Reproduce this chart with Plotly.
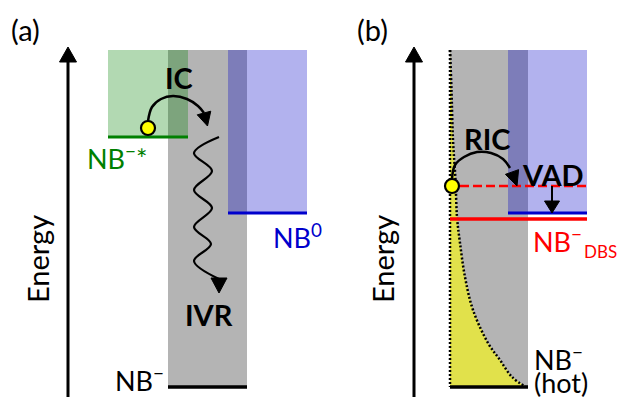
import plotly.graph_objects as go

W, H = 617, 397
FONT = "Lato"

# ---- layout values of the schematic (pixel-like units, y grows downward) ----
energy_axis_x = [68, 414]          # panel (a), panel (b)
energy_axis_top = 47
energy_axis_bottom = 397
box_top = 50
ground_y = 387

# panel (a)
gray_a = [168, 247]
green_a = [108, 188]
green_level = 137
blue_a = [228, 307]
blue_level = 213
circle_a = [148, 128]
ic_arc_x = [148, 152, 161, 173, 187, 198, 204]
ic_arc_y = [121, 107, 99, 96, 99, 106, 113]
ic_head = [(204, 113), (207.5, 126)]
wave_x = [219, 194, 212, 194, 212, 194, 211, 194, 219]
wave_y = [137, 153, 171, 190, 208, 227, 244, 261, 279]
wave_head = [(219, 278), (219, 293)]

# panel (b)
gray_b = [450, 528]
blue_b = [508, 587]
dbs_level = 219
vad_level = 186
circle_b = [452, 186]
ric_arc_x = [452, 455, 464, 477, 491, 503, 510]
ric_arc_y = [179, 165, 157, 152, 153, 159, 168]
ric_head = [(512, 172), (517, 186)]
vad_x = 552
vad_head = [(552, 201), (552, 213)]
hot_y = [50, 90, 140, 180, 217, 243, 277, 310, 343, 360, 377, 387]
hot_x = [450, 451.5, 453, 455.5, 457, 460, 465, 473, 488, 500, 512, 526]

GREEN = "#008000"
BLUE = "#0000CC"
RED = "#FF0000"
GRAY = "#B4B4B4"

fig = go.Figure()


def line(xs, ys, color, width, dash=None, shape="linear"):
    fig.add_trace(go.Scatter(x=xs, y=ys, mode="lines",
                             line=dict(color=color, width=width, dash=dash, shape=shape),
                             hoverinfo="skip", showlegend=False))


def head(base, tip, width, color="black"):
    (bx, by), (tx, ty) = base, tip
    dx, dy = tx - bx, ty - by
    n = (dx * dx + dy * dy) ** 0.5
    px, py = -dy / n * width / 2, dx / n * width / 2
    fig.add_trace(go.Scatter(x=[bx + px, tx, bx - px, bx + px],
                             y=[by + py, ty, by - py, by + py],
                             mode="lines", fill="toself", fillcolor=color,
                             line=dict(color=color, width=1),
                             hoverinfo="skip", showlegend=False))


def rect(x0, x1, y0, y1, color):
    fig.add_shape(type="rect", x0=x0, x1=x1, y0=y0, y1=y1, xref="x", yref="y",
                  fillcolor=color, line=dict(width=0), layer="below")


# rectangles (bands)
rect(gray_a[0], gray_a[1], box_top, ground_y, GRAY)
rect(green_a[0], green_a[1], box_top, green_level, "rgba(0,128,0,0.30)")
rect(blue_a[0], blue_a[1], box_top, blue_level, "rgba(0,0,200,0.30)")
rect(gray_b[0], gray_b[1], box_top, ground_y, GRAY)
rect(blue_b[0], blue_b[1], box_top, blue_level, "rgba(0,0,200,0.30)")

# hot distribution (b)
fig.add_trace(go.Scatter(x=[gray_b[0]] + hot_x + [gray_b[0]],
                         y=[hot_y[0]] + hot_y + [ground_y],
                         mode="lines", fill="toself", fillcolor="#E1E14B",
                         line=dict(width=0), hoverinfo="skip", showlegend=False))
line(hot_x, hot_y, "black", 2.5, dash="2px,2px", shape="spline")
line([gray_b[0], gray_b[0]], [box_top, ground_y], "black", 2.5, dash="2px,2px")

# energy axes
for ex in energy_axis_x:
    line([ex, ex], [energy_axis_bottom, energy_axis_top + 10], "black", 3)
    head((ex, energy_axis_top + 15), (ex, energy_axis_top), 17)

# levels
line(green_a, [green_level, green_level], GREEN, 3)
line(blue_a, [blue_level, blue_level], BLUE, 3)
line(gray_a, [ground_y, ground_y], "black", 3.5)
line(blue_b, [blue_level, blue_level], BLUE, 3)
line([gray_b[0], blue_b[1]], [dbs_level, dbs_level], RED, 3.5)
line([circle_b[0] + 8, blue_b[1]], [vad_level, vad_level], RED, 2.5, dash="9px,4px")
line(gray_b, [ground_y, ground_y], "black", 3.5)

# IC arc, wave (IVR), RIC arc, VAD arrow
line(ic_arc_x, ic_arc_y, "black", 2.5, shape="spline")
head(ic_head[0], ic_head[1], 14)
line(wave_x, wave_y, "black", 2.2, shape="spline")
head(wave_head[0], wave_head[1], 16)
line(ric_arc_x, ric_arc_y, "black", 2.5, shape="spline")
head(ric_head[0], ric_head[1], 14)
line([vad_x, vad_x], [vad_level, vad_head[0][1] + 1], "black", 2)
head(vad_head[0], vad_head[1], 15)

# electrons
fig.add_trace(go.Scatter(x=[circle_a[0], circle_b[0]], y=[circle_a[1], circle_b[1]],
                         mode="markers",
                         marker=dict(size=14, color="#FFFF00", line=dict(color="black", width=2.2)),
                         hoverinfo="skip", showlegend=False))


def text(x, y, s, size=27, color="black", xanchor="left", bold=False, angle=0):
    if bold:
        s = "<b>" + s + "</b>"
    fig.add_annotation(x=x, y=y, xref="x", yref="y", text=s, showarrow=False,
                       xanchor=xanchor, yanchor="middle", textangle=angle,
                       font=dict(family=FONT, size=size, color=color))


text(25, 29, "(a)", size=29, xanchor="center")
text(372, 29, "(b)", size=29, xanchor="center")
text(37, 259, "Energy", size=29, xanchor="center", angle=-90)
text(382, 259, "Energy", size=29, xanchor="center", angle=-90)
text(179, 77, "IC", size=29, xanchor="center", bold=True)
text(209, 314, "IVR", size=29, xanchor="center", bold=True)
text(487, 138, "RIC", size=29, xanchor="center", bold=True)
text(553, 174, "VAD", size=29, xanchor="center", bold=True)
text(85, 157, "NB<sup>−</sup>*", color=GREEN)
text(271, 236, "NB<sup>0</sup>", color=BLUE)
text(113, 379, "NB<sup>−</sup>")
text(531, 240, "NB<sup>−</sup>", color=RED)
text(582, 251, "DBS", size=17, color=RED)
text(532, 358, "NB<sup>−</sup>")
text(532, 382, "(hot)")

fig.update_layout(
    width=W, height=H, margin=dict(l=0, r=0, t=0, b=0),
    paper_bgcolor="white", plot_bgcolor="white",
    xaxis=dict(range=[0, W], visible=False, fixedrange=True),
    yaxis=dict(range=[H, 0], visible=False, fixedrange=True),
    font=dict(family=FONT),
)

fig.write_html("out.html")
